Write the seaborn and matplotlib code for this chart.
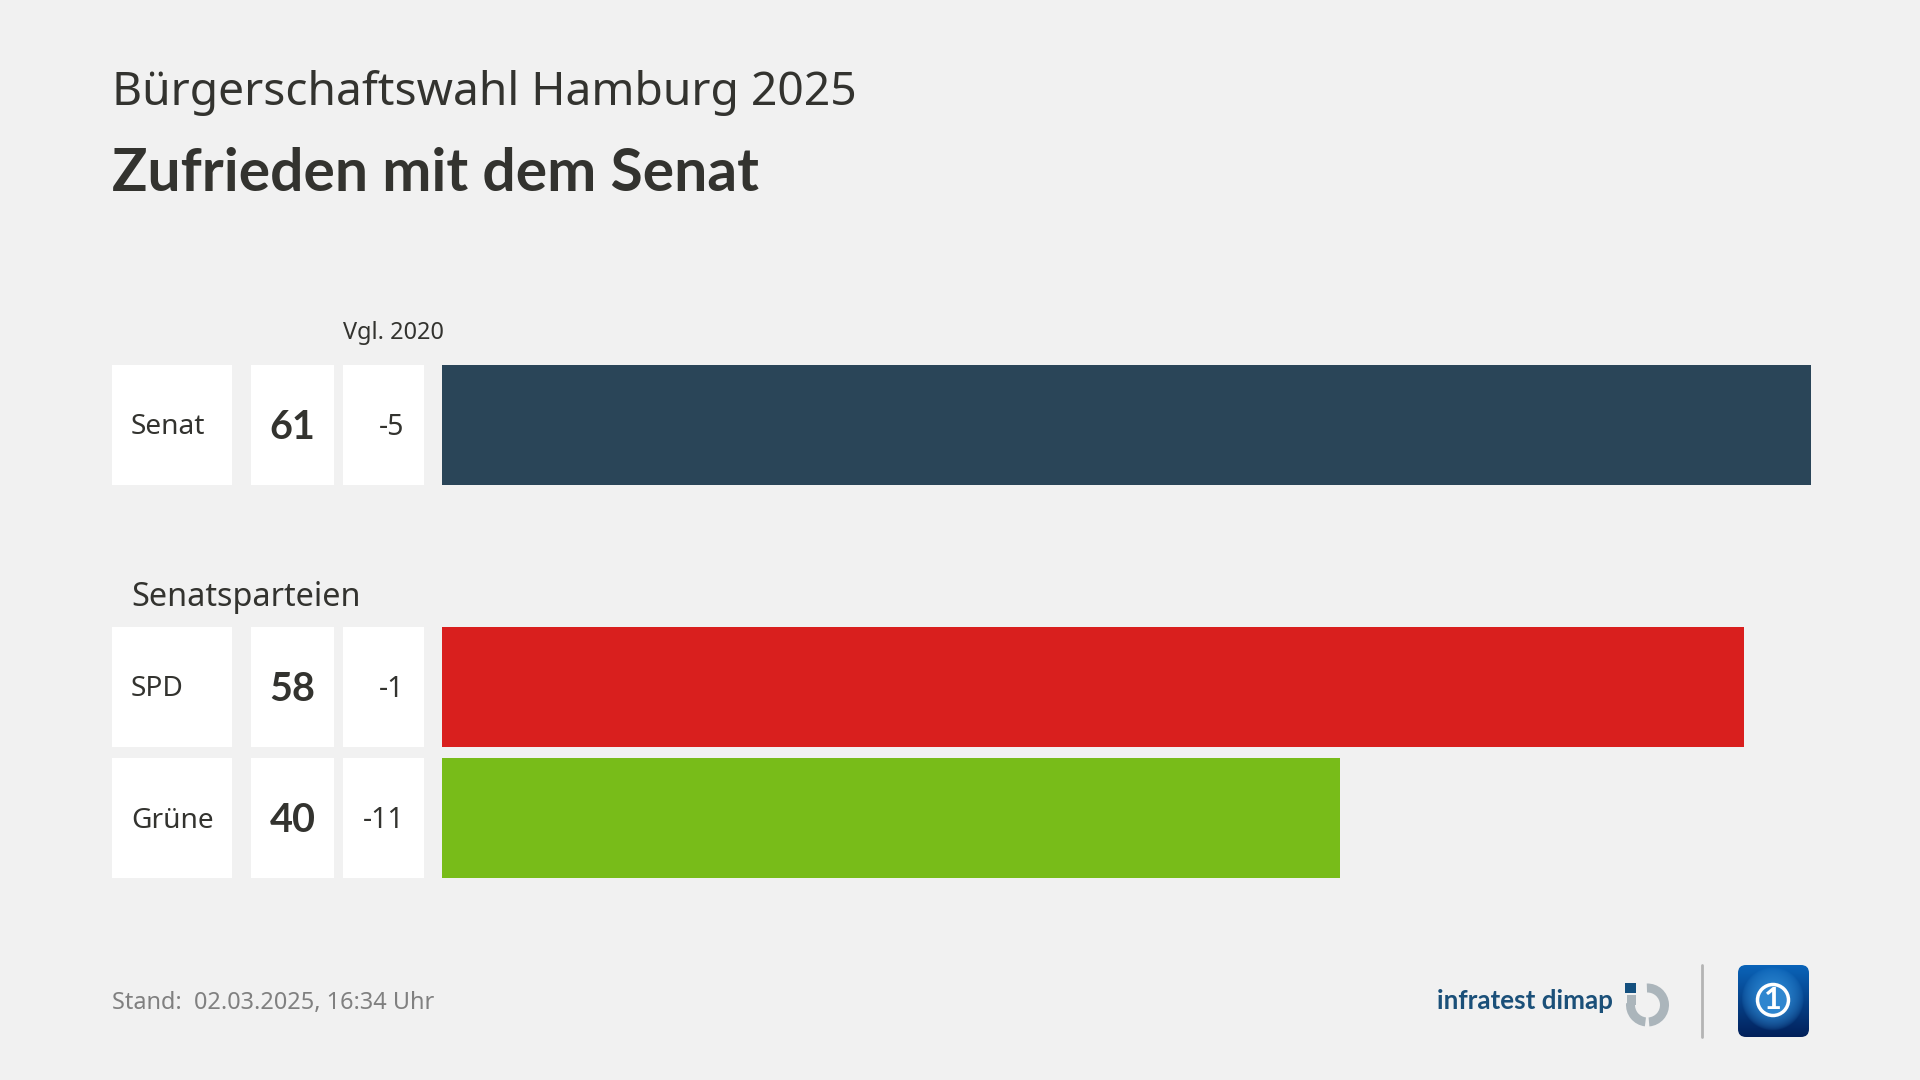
import numpy as np
import pandas as pd
import matplotlib
matplotlib.use('Agg')
import matplotlib.pyplot as plt
import seaborn as sns
from matplotlib.patches import Rectangle, Wedge, Circle, FancyBboxPatch
from matplotlib.transforms import blended_transform_factory

# Daten
gruppen = ['Senat', 'SPD', 'Grüne']
werte = [61, 58, 40]
vergleich = ['-5', '-1', '-11']
reihen = ['Senat', 'Senatsparteien', 'SPD', 'Grüne']
farben = {'Senat': '#2a4558', 'SPD': '#d91f1e', 'Grüne': '#78bc19'}

BG = '#f1f1f1'
TEXT = '#33332f'
W, H = 1920, 1080
FETT = ['Lato', 'DejaVu Sans']

sns.set_theme(style='white', rc={'figure.facecolor': BG, 'axes.facecolor': 'none'})
plt.rcParams['font.family'] = ['Noto Sans', 'DejaVu Sans']

fig = plt.figure(figsize=(19.2, 10.8), dpi=100)

# Balken, Zeilenabstand 131 px, erste Zeile Mitte bei y=425
ax = fig.add_axes([442 / W, 1 - 883.5 / H, (1811 - 442) / W, (883.5 - 359.5) / H])
df = pd.DataFrame({'gruppe': gruppen, 'wert': werte})
sns.barplot(data=df, x='wert', y='gruppe', hue='gruppe', order=reihen, hue_order=gruppen,
            palette=farben, width=120 / 131, dodge=False, saturation=1, legend=False,
            linewidth=0, ax=ax)
ax.set_xlim(0, 61)
ax.set_ylim(3.5, -0.5)
ax.axis('off')

# Pixel-Ebene fuer Tabelle, Texte und Logos
px = fig.add_axes([0, 0, 1, 1], zorder=3)
px.set_xlim(0, W)
px.set_ylim(H, 0)
px.axis('off')

# x in Pixeln, y in Zeilen der Balkenachse
zeile = blended_transform_factory(px.transData, ax.transData)
hoehe = 120 / 131
versatz = 2.5 / 131  # Text sitzt etwas tiefer als die Zeilenmitte

for name, wert, diff in zip(gruppen, werte, vergleich):
    y = reihen.index(name)
    for x0, x1 in [(112, 232), (251, 334), (343, 424)]:
        px.add_patch(Rectangle((x0, y - hoehe / 2), x1 - x0, hoehe, fc='white', ec='none', transform=zeile))
    px.text(131, y + versatz, name, transform=zeile, fontsize=20.2, color=TEXT, va='center', ha='left')
    px.text(292.5, y + versatz, str(wert), transform=zeile, fontsize=28.5, fontweight='bold', family=FETT,
            color=TEXT, va='center', ha='center')
    px.text(404.5, y + versatz, diff, transform=zeile, fontsize=20.5, color=TEXT, va='center', ha='right')

# Titel
px.text(112, 93, 'Bürgerschaftswahl Hamburg 2025', fontsize=33.3, color=TEXT, va='center', ha='left')
px.text(112, 174, 'Zufrieden mit dem Senat', fontsize=42.3, fontweight='bold', family=FETT, color=TEXT,
        va='center', ha='left')
px.text(343, 333, 'Vgl. 2020', fontsize=16.9, color=TEXT, va='center', ha='left')
px.text(131, 597, 'Senatsparteien', fontsize=23.3, color=TEXT, va='center', ha='left')
px.text(112, 1003, 'Stand:  02.03.2025, 16:34 Uhr', fontsize=16.9, color='#808080', va='center', ha='left')

# Logo infratest dimap
px.text(1437, 1009, 'infratest dimap', fontsize=18.7, fontweight='bold', family=FETT, color='#1b5079',
        va='baseline', ha='left')
px.add_patch(Rectangle((1625, 983), 11, 9.5, fc='#14507f', ec='none'))
px.add_patch(Wedge((1647.5, 1005), 21.5, -92, 85, width=9, fc='#abb5bb', ec='none'))
px.add_patch(Wedge((1647.5, 1005), 21.5, 97, 185, width=9, fc='#abb5bb', ec='none'))
px.add_patch(Rectangle((1626.5, 995), 9, 10, fc='#abb5bb', ec='none'))

# Trenner
px.plot([1702, 1702], [965, 1037], color='#b4b4b4', lw=2, solid_capstyle='round')

# Logo tagesschau
box = FancyBboxPatch((1746, 973), 55, 56, boxstyle='round,pad=8,rounding_size=8', fc='none', ec='none')
px.add_patch(box)
yy, xx = np.mgrid[0:1:160j, 0:1:160j]
verlauf = np.zeros((160, 160, 3))
oben, unten = np.array([10, 100, 185]) / 255, np.array([2, 32, 90]) / 255
for k in range(3):
    verlauf[..., k] = oben[k] + (unten[k] - oben[k]) * yy
dist = np.hypot(xx - 0.49, yy - 0.47)
globus = np.clip(1 - dist / 0.44, 0, 1)[..., None] ** 0.6
verlauf = verlauf * (1 - globus) + np.array([50, 145, 220]) / 255 * globus
img = px.imshow(verlauf, extent=(1738, 1809, 1037, 965), aspect='auto', zorder=2)
img.set_clip_path(box)
px.add_patch(Circle((1773, 1000), 15.5, fc='#2f86cf', ec='white', lw=2.5, zorder=3))
px.text(1773, 1000, '1', fontsize=22, fontweight='bold', family=FETT, color='white', va='center',
        ha='center', zorder=4)
px.set_xlim(0, W)
px.set_ylim(H, 0)

fig.savefig('out.png', dpi=100, facecolor=BG)
